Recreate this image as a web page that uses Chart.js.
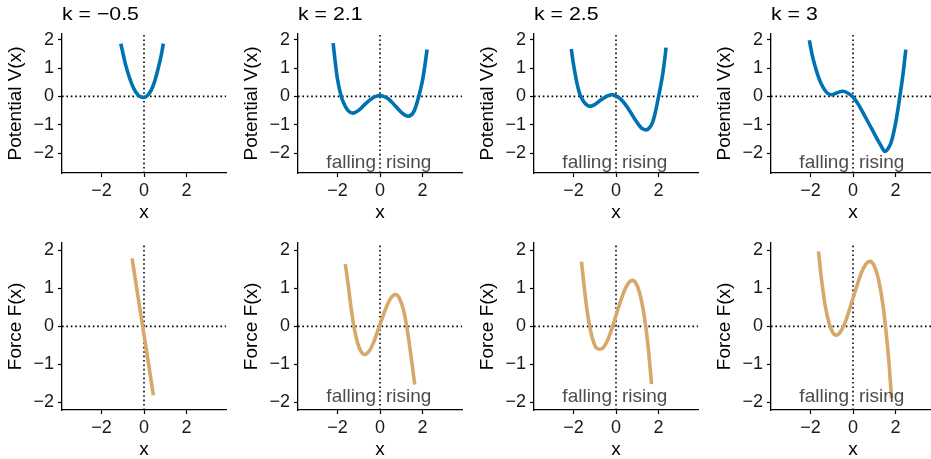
<!DOCTYPE html>
<html>
<head>
<meta charset="utf-8">
<script src="https://cdn.jsdelivr.net/npm/chart.js@4.4.1/dist/chart.umd.min.js"></script>
<style>
  html, body { margin: 0; padding: 0; background: #fff; width: 931px; height: 459px; overflow: hidden; }
  .panel { position: absolute; }
</style>
</head>
<body>
<script>
// panel titles and tick labels
const kLabels = ["k = \u22120.5", "k = 2.1", "k = 2.5", "k = 3"];
const xTicks = [-2, 0, 2];
const xTickLabels = ["\u22122", "0", "2"];
const yTicksV = [-2, -1, 0, 1, 2];
const yTicksF = [-2, -1, 0, 1, 2];
const yTickLabels = ["\u22122", "\u22121", "0", "1", "2"];
const annotationText = ["falling", "rising"];

// potential V(x), one pair of arrays per k
const vX_k1 = [-1.09, -0.95, -0.84, -0.7, -0.58, -0.46, -0.34, -0.2, -0.06, 0.07, 0.2, 0.35, 0.5, 0.65, 0.8, 0.91];
const vY_k1 = [1.86, 1.39, 1.05, 0.7, 0.45, 0.25, 0.11, 0.0, -0.04, -0.02, 0.06, 0.24, 0.53, 0.94, 1.42, 1.86];
const vX_k2 = [-2.2, -2.1, -2.0, -1.82, -1.7, -1.5, -1.27, -1.0, -0.7, -0.4, -0.2, 0, 0.2, 0.4, 0.7, 1.0, 1.32, 1.6, 1.82, 2.0, 2.1, 2.21];
const vY_k2 = [1.88, 1.2, 0.62, 0.0, -0.24, -0.5, -0.59, -0.49, -0.27, -0.08, 0.0, 0.03, -0.01, -0.09, -0.32, -0.56, -0.7, -0.52, 0.0, 0.58, 1.05, 1.65];
const vX_k3 = [-2.1, -2.0, -1.85, -1.7, -1.6, -1.5, -1.35, -1.22, -1.0, -0.7, -0.4, -0.19, 0, 0.3, 0.6, 0.9, 1.2, 1.41, 1.55, 1.7, 1.85, 2.0, 2.1, 2.2, 2.3, 2.35];
const vY_k3 = [1.67, 1.15, 0.53, 0.08, -0.08, -0.2, -0.31, -0.35, -0.29, -0.12, 0.02, 0.06, 0.02, -0.15, -0.46, -0.82, -1.12, -1.18, -1.12, -0.95, -0.55, 0.0, 0.38, 0.82, 1.38, 1.72];
const vX_k4 = [-2.05, -1.92, -1.78, -1.62, -1.47, -1.3, -1.16, -1.0, -0.75, -0.47, -0.25, 0, 0.25, 0.48, 0.72, 0.95, 1.15, 1.3, 1.42, 1.5, 1.58, 1.68, 1.8, 1.97, 2.1, 2.2, 2.35, 2.48];
const vY_k4 = [1.98, 1.47, 1.06, 0.68, 0.41, 0.2, 0.09, 0.06, 0.13, 0.18, 0.12, -0.02, -0.28, -0.59, -0.92, -1.24, -1.52, -1.72, -1.88, -1.94, -1.91, -1.8, -1.6, -1.06, -0.5, 0.0, 0.8, 1.65];

// force F(x), one pair of arrays per k
const fX_k1 = [-0.56, -0.3, 0, 0.2, 0.44];
const fY_k1 = [1.79, 0.85, -0.22, -0.94, -1.81];
const fX_k2 = [-1.63, -1.5, -1.35, -1.2, -1.05, -0.9, -0.72, -0.5, -0.3, -0.1, 0.1, 0.3, 0.5, 0.72, 0.9, 1.1, 1.25, 1.4, 1.52, 1.63];
const fY_k2 = [1.64, 1.12, 0.45, -0.08, -0.44, -0.65, -0.74, -0.64, -0.42, -0.11, 0.21, 0.51, 0.74, 0.84, 0.75, 0.44, 0.02, -0.55, -1.05, -1.53];
const fX_k3 = [-1.62, -1.5, -1.35, -1.2, -1.05, -0.9, -0.76, -0.6, -0.4, -0.2, 0, 0.2, 0.4, 0.6, 0.76, 0.9, 1.1, 1.3, 1.5, 1.67];
const fY_k3 = [1.7, 1.07, 0.39, -0.1, -0.42, -0.58, -0.6, -0.56, -0.37, -0.07, 0.29, 0.64, 0.95, 1.15, 1.21, 1.17, 0.9, 0.37, -0.49, -1.52];
const fX_k4 = [-1.62, -1.5, -1.3, -1.1, -0.9, -0.77, -0.6, -0.4, -0.2, 0, 0.2, 0.4, 0.6, 0.8, 1.0, 1.2, 1.4, 1.6, 1.7, 1.81];
const fY_k4 = [1.97, 1.34, 0.53, 0.04, -0.2, -0.23, -0.15, 0.06, 0.38, 0.74, 1.1, 1.42, 1.63, 1.71, 1.59, 1.23, 0.59, -0.4, -1.03, -1.88];

const xRange = [-3.85, 3.85];
const vRange = [-2.7, 2.2];
const fRange = [-2.2, 2.2];
const annYV = -2.35;
const annYF = -1.85;

const blue = "#0072B2";
const tan = "#D6A86A";
const fontFamily = "'Liberation Sans', Arial, sans-serif";

const colLeft = [0, 236, 472, 709];

function toPoints(xs, ys) {
  return xs.map((x, i) => ({ x: x, y: ys[i] }));
}

function dotted(points) {
  return {
    data: points,
    borderColor: "#000",
    borderWidth: 1.6,
    borderDash: [1.6, 2.8],
    pointRadius: 0,
    tension: 0,
    fill: false,
  };
}

const labelPlugin = {
  id: "labels",
  afterDraw(chart) {
    const o = chart.options.plugins.labels;
    const ctx = chart.ctx;
    const area = chart.chartArea;
    ctx.save();
    if (o.title) {
      // the reference text is a little wider than Liberation Sans
      ctx.save();
      ctx.translate(area.left, 19.5);
      ctx.scale(1.12, 1);
      ctx.font = "19px " + fontFamily;
      ctx.fillStyle = "#000";
      ctx.textAlign = "left";
      ctx.textBaseline = "alphabetic";
      ctx.fillText(o.title, 0, 0);
      ctx.restore();
    }
    if (o.annY !== null) {
      const x0 = chart.scales.x.getPixelForValue(0);
      const y = chart.scales.y.getPixelForValue(o.annY);
      ctx.font = "19px " + fontFamily;
      ctx.fillStyle = "#4d4d4d";
      ctx.textBaseline = "middle";
      ctx.textAlign = "right";
      ctx.fillText(annotationText[0], x0 - 4, y);
      ctx.textAlign = "left";
      ctx.fillText(annotationText[1], x0 + 6, y);
    }
    ctx.restore();
  },
};

function makePanel(row, col, xs, ys, color, yTitle, yRange, yTicks, title, annY) {
  const div = document.createElement("div");
  div.className = "panel";
  const h = row === 0 ? 229 : 234;
  div.style.left = colLeft[col] + "px";
  div.style.top = (row === 0 ? 0 : 228) + "px";
  const canvas = document.createElement("canvas");
  canvas.width = 232;
  canvas.height = h;
  div.appendChild(canvas);
  document.body.appendChild(div);

  new Chart(canvas.getContext("2d"), {
    type: "line",
    data: {
      datasets: [
        {
          data: toPoints(xs, ys),
          borderColor: color,
          borderWidth: 3.6,
          pointRadius: 0,
          cubicInterpolationMode: "monotone",
          fill: false,
        },
        dotted([{ x: xRange[0], y: 0 }, { x: xRange[1], y: 0 }]),
        dotted([{ x: 0, y: yRange[0] }, { x: 0, y: yRange[1] }]),
      ],
    },
    options: {
      responsive: false,
      animation: false,
      events: [],
      layout: { padding: { top: row === 0 ? 34 : 13, bottom: row === 0 ? 5 : 1, left: 0, right: 6 } },
      plugins: {
        legend: { display: false },
        tooltip: { enabled: false },
        labels: { title: title, annY: annY },
      },
      scales: {
        x: {
          type: "linear",
          min: xRange[0],
          max: xRange[1],
          afterBuildTicks: (s) => { s.ticks = xTicks.map((v) => ({ value: v })); },
          afterFit: (s) => { s.height = 51; },
          ticks: {
            callback: (v, i) => xTickLabels[i],
            font: { family: fontFamily, size: 18 },
            color: "#1a1a1a",
            padding: 3,
            maxRotation: 0,
            autoSkip: false,
          },
          grid: { display: true, drawOnChartArea: false, tickLength: 4, tickColor: "#000", tickWidth: 1.2 },
          border: { display: true, color: "#000", width: 1.3 },
          title: { display: true, text: "x", font: { family: fontFamily, size: 19 }, color: "#000", padding: 0 },
        },
        y: {
          type: "linear",
          min: yRange[0],
          max: yRange[1],
          afterBuildTicks: (s) => { s.ticks = yTicks.map((v) => ({ value: v })); },
          afterFit: (s) => { s.width = 62; },
          ticks: {
            callback: (v, i) => yTickLabels[i],
            font: { family: fontFamily, size: 18 },
            color: "#1a1a1a",
            padding: 4,
            autoSkip: false,
          },
          grid: { display: true, drawOnChartArea: false, tickLength: 4, tickColor: "#000", tickWidth: 1.2 },
          border: { display: true, color: "#000", width: 1.3 },
          title: { display: true, text: yTitle, font: { family: fontFamily, size: 19 }, color: "#000", padding: { top: 4, bottom: 0 } },
        },
      },
    },
    plugins: [labelPlugin],
  });
}

const vXs = [vX_k1, vX_k2, vX_k3, vX_k4];
const vYs = [vY_k1, vY_k2, vY_k3, vY_k4];
const fXs = [fX_k1, fX_k2, fX_k3, fX_k4];
const fYs = [fY_k1, fY_k2, fY_k3, fY_k4];

for (let c = 0; c < 4; c++) {
  makePanel(0, c, vXs[c], vYs[c], blue, "Potential V(x)", vRange, yTicksV, kLabels[c], c === 0 ? null : annYV);
  makePanel(1, c, fXs[c], fYs[c], tan, "Force F(x)", fRange, yTicksF, null, c === 0 ? null : annYF);
}
</script>
</body>
</html>
